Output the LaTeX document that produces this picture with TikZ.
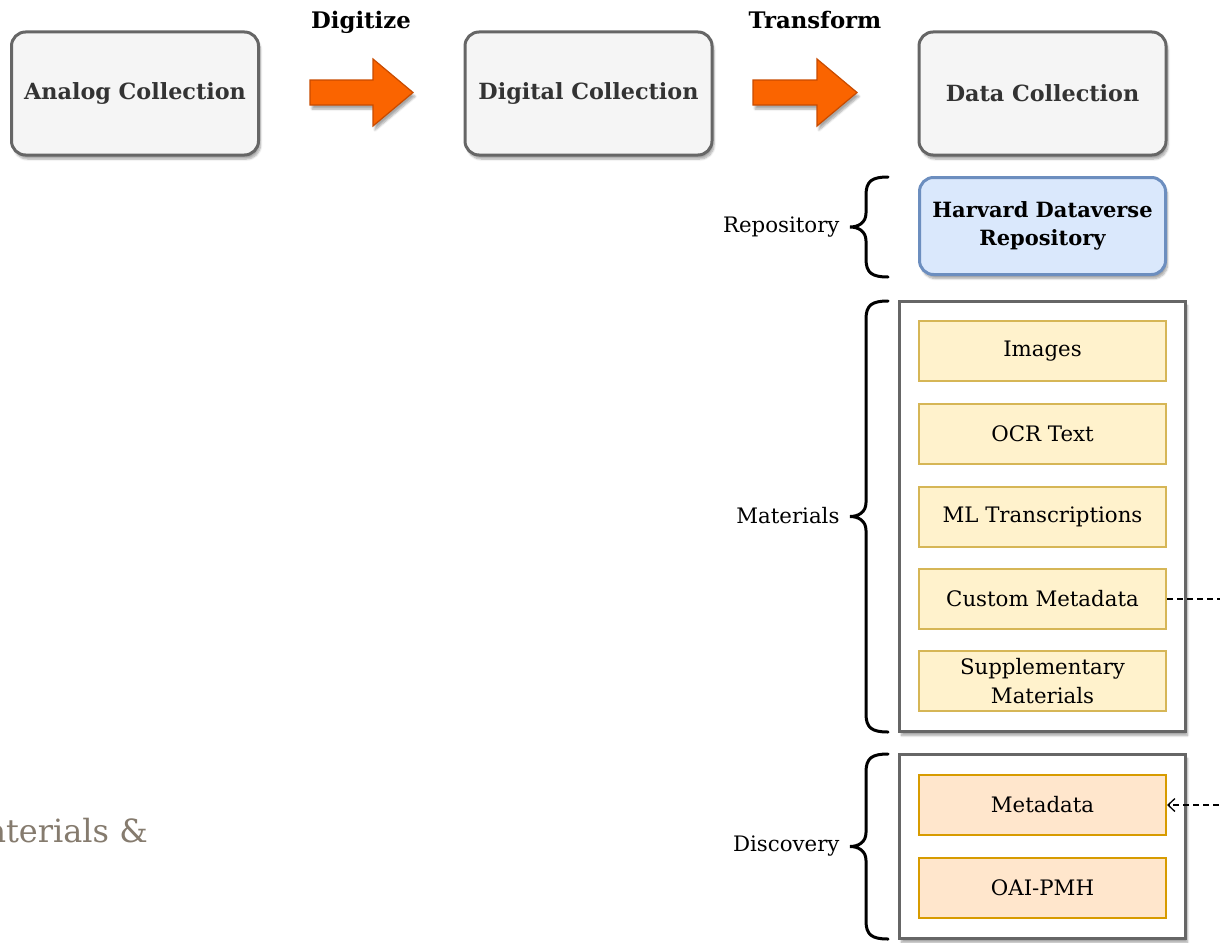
\documentclass[tikz,border=0pt]{standalone}
\usepackage{fontspec}
\setmainfont{DejaVu Serif}
\newfontfamily\slabfont{DejaVu Serif}
\usetikzlibrary{shadows.blur,arrows.meta,calc}
\definecolor{boxgray}{HTML}{F5F5F5}
\definecolor{linegray}{HTML}{666666}
\definecolor{txtgray}{HTML}{333333}
\definecolor{bluefill}{HTML}{DAE8FC}
\definecolor{blueline}{HTML}{6C8EBF}
\definecolor{yelfill}{HTML}{FFF2CC}
\definecolor{yelline}{HTML}{D6B656}
\definecolor{orafill}{HTML}{FFE6CC}
\definecolor{oraline}{HTML}{D79B00}
\definecolor{arrfill}{HTML}{FA6400}
\definecolor{arrline}{HTML}{C84B00}
\definecolor{slabgray}{HTML}{857B6E}
\tikzset{
  softshadow/.style={blur shadow={shadow blur steps=6, shadow xshift=2pt, shadow yshift=-4pt, shadow opacity=35}},
  topbox/.style={rounded corners=14pt, draw=linegray, line width=3pt, fill=boxgray,
    minimum width=247, minimum height=123, inner sep=0pt, text=txtgray,
    font=\bfseries\fontsize{22.3}{28}\selectfont, softshadow},
  repobox/.style={rounded corners=14pt, draw=blueline, line width=3pt, fill=bluefill,
    minimum width=246, minimum height=97, inner sep=0pt, align=center,
    font=\bfseries\fontsize{21}{28}\selectfont, softshadow},
  container/.style={draw=linegray, line width=3pt, fill=white, minimum width=286, inner sep=0pt, softshadow},
  yelitem/.style={draw=yelline, line width=2pt, fill=yelfill, minimum width=247, minimum height=60,
    inner sep=0pt, align=center, font=\fontsize{21.3}{29}\selectfont},
  oraitem/.style={draw=oraline, line width=2pt, fill=orafill, minimum width=247, minimum height=60,
    inner sep=0pt, align=center, font=\fontsize{21.3}{29}\selectfont},
  steplabel/.style={font=\bfseries\fontsize{22.8}{28}\selectfont},
  bracelabel/.style={anchor=east, font=\fontsize{21.3}{28}\selectfont},
  bracestyle/.style={draw=black, line width=3pt, line cap=round},
  bigarrow/.style={draw=arrline, line width=1.2pt, fill=arrfill, line join=miter, softshadow},
  dashconn/.style={draw=black, line width=1.3pt, dash pattern=on 6pt off 4pt},
}
\newcommand\mybrace[3]{%
  \pgfmathsetmacro\bmid{(#2+#3)/2}
  \draw[bracestyle] (#1,#2) .. controls ({#1-16},#2) and ({#1-22},{#2+4}) .. ({#1-22},{#2+18})
    -- ({#1-22},{\bmid-14}) .. controls ({#1-22},{\bmid-4}) and ({#1-30},\bmid) .. ({#1-38},\bmid)
    .. controls ({#1-30},\bmid) and ({#1-22},{\bmid+4}) .. ({#1-22},{\bmid+14})
    -- ({#1-22},{#3-18}) .. controls ({#1-22},{#3-4}) and ({#1-16},#3) .. (#1,#3);
}
\begin{document}
\begin{tikzpicture}[x=1pt,y=-1pt]
\useasboundingbox (0,0) rectangle (1220,942);
\clip (0,0) rectangle (1220,942);

% cut-off slide text
\node[anchor=base east, inner sep=0pt, text=slabgray, font=\slabfont\fontsize{32}{40}\selectfont] (slabtext) at (148,842) {Materials \&};

% top row
\node[topbox] (analog) at (135,93.5) {Analog Collection};
\node[topbox] (digital) at (588.5,93.5) {Digital Collection};
\node[topbox] (data) at (1042.5,93.5) {Data Collection};

\path[bigarrow] (310,80) -- (373,80) -- (373,59) -- (413,92.5) -- (373,126) -- (373,105) -- (310,105) -- cycle;
\path[bigarrow] (753,80) -- (817,80) -- (817,59) -- (857,92.5) -- (817,126) -- (817,105) -- (753,105) -- cycle;
\node[steplabel, anchor=base] (digitize) at (361,29) {Digitize};
\node[steplabel, anchor=base] (transform) at (815,29) {Transform};

% repository
\node[repobox] (harvard) at (1042.5,226) {Harvard Dataverse\\Repository};
\mybrace{888}{177}{277}
\node[bracelabel] (replab) at (843,227) {Repository};

% materials
\node[container, minimum height=430] (matbox) at (1042.5,516.5) {};
\node[yelitem] (images) at (1042.5,351) {Images};
\node[yelitem] (ocr) at (1042.5,434) {OCR Text};
\node[yelitem] (ml) at (1042.5,517) {ML Transcriptions};
\node[yelitem] (custom) at (1042.5,599) {Custom Metadata};
\node[yelitem] (supp) at (1042.5,681) {Supplementary\\[0pt]Materials};
\mybrace{888}{301}{732}
\node[bracelabel] (matlab) at (843,516) {Materials};

% discovery
\node[container, minimum height=184] (discbox) at (1042.5,846.5) {};
\node[oraitem] (meta) at (1042.5,805) {Metadata};
\node[oraitem] (oai) at (1042.5,887.5) {OAI-PMH};
\mybrace{888}{754}{939}
\node[bracelabel] (disclab) at (843,846) {Discovery};

% dashed connector
\coordinate (offright) at (1260,599);
\draw[dashconn, -{Straight Barb[length=7pt,width=13pt,line width=1.3pt]}] (custom.east) -- (offright) |- (meta.east);
\end{tikzpicture}
\end{document}
